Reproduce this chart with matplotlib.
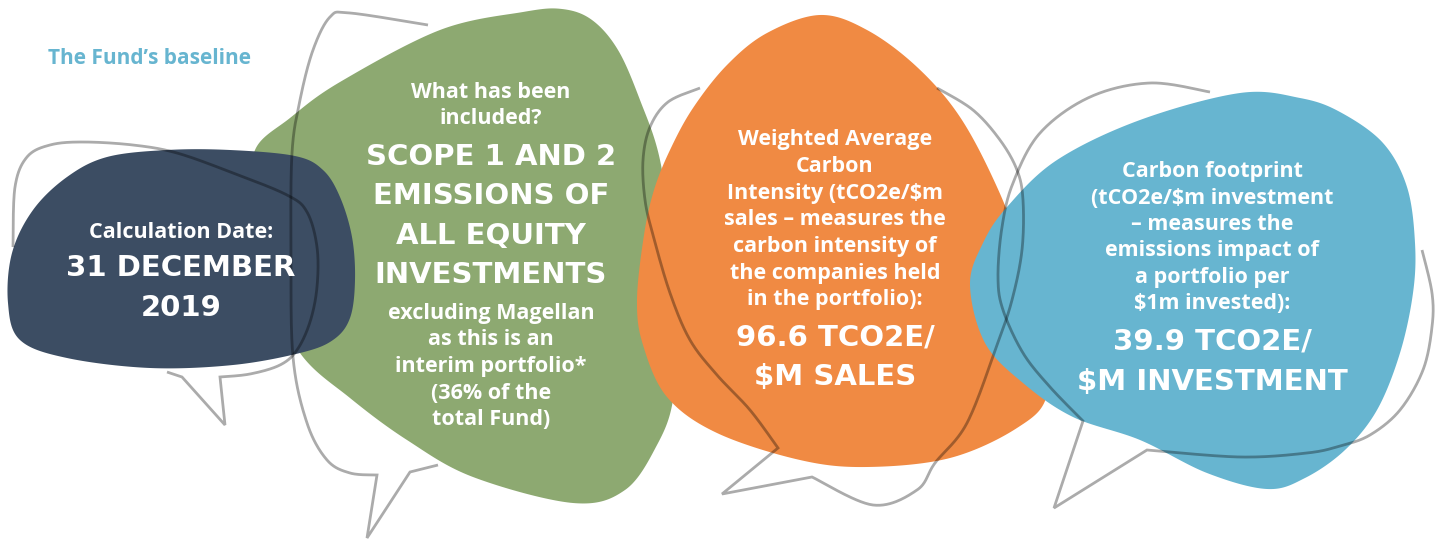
import numpy as np
import matplotlib
matplotlib.use("Agg")
from matplotlib import pyplot as plt

# colours of the four speech blobs
col_navy = "#3c4d63"
col_green = "#8da971"
col_orange = "#f08a43"
col_blue = "#67b5d0"

title = "The Fund\u2019s baseline"

# text of each blob
navy_small = ["Calculation Date:"]
navy_big = ["31 DECEMBER", "2019"]

green_small = ["What has been", "included?"]
green_big = ["SCOPE 1 AND 2", "EMISSIONS OF", "ALL EQUITY", "INVESTMENTS"]
green_after = ["excluding Magellan", "as this is an", "interim portfolio*", "(36% of the", "total Fund)"]

orange_small = ["Weighted Average", "Carbon", "Intensity (tCO2e/$m", "sales \u2013 measures the",
                "carbon intensity of", "the companies held", "in the portfolio):"]
orange_big = ["96.6 TCO2E/", "$M SALES"]

blue_small = ["Carbon footprint", "(tCO2e/$m investment", "\u2013 measures the",
              "emissions impact of", "a portfolio per", "$1m invested):"]
blue_big = ["39.9 TCO2E/", "$M INVESTMENT"]


def catmull(pts, closed=True, n=30):
    p = np.array(pts, float)
    m = len(p)
    if not closed:
        p = np.vstack([p[0], p, p[-1]])
    out = []
    rng = range(m) if closed else range(1, m)
    for i in rng:
        if closed:
            p0, p1, p2, p3 = p[i - 1], p[i], p[(i + 1) % m], p[(i + 2) % m]
        else:
            p0, p1, p2, p3 = p[i - 1], p[i], p[i + 1], p[i + 2]
        t = np.linspace(0, 1, n, endpoint=False)[:, None]
        out.append(0.5 * (2 * p1 + (-p0 + p2) * t + (2 * p0 - 5 * p1 + 4 * p2 - p3) * t ** 2
                          + (-p0 + 3 * p1 - 3 * p2 + p3) * t ** 3))
    if not closed:
        out.append(p[-2][None, :])
    return np.vstack(out)


fig = plt.figure(figsize=(14.43, 5.41), dpi=100)
ax = fig.add_axes([0, 0, 1, 1])
ax.set_xlim(0, 1443)
ax.set_ylim(541, 0)
ax.axis("off")

# blob outlines (pixel space)
green_shape = [(255, 150), (290, 118), (340, 82), (440, 30), (523, 12), (562, 9), (592, 20),
               (618, 50), (640, 100), (660, 160), (672, 250), (676, 330), (673, 400), (657, 445),
               (625, 490), (573, 503), (473, 477), (407, 440), (350, 398), (300, 353), (265, 280),
               (255, 200)]
navy_shape = [(8, 303), (20, 340), (67, 358), (150, 368), (233, 365), (300, 353), (333, 340),
              (350, 318), (355, 280), (352, 237), (340, 197), (323, 170), (295, 156), (230, 150),
              (167, 150), (107, 157), (67, 177), (33, 210), (12, 253)]
orange_shape = [(637, 300), (644, 235), (654, 190), (670, 150), (693, 108), (727, 65), (767, 33),
                (820, 15), (867, 30), (917, 67), (960, 117), (997, 187), (1025, 260), (1043, 330),
                (1047, 395), (1017, 428), (950, 458), (867, 467), (800, 460), (717, 433),
                (667, 397), (643, 345)]
blue_shape = [(970, 285), (983, 243), (1007, 207), (1057, 160), (1140, 120), (1240, 93),
              (1300, 98), (1340, 112), (1383, 143), (1407, 187), (1415, 243), (1413, 293),
              (1400, 353), (1377, 410), (1345, 450), (1305, 478), (1267, 489), (1207, 473),
              (1140, 440), (1073, 417), (1023, 383), (985, 343)]

for shape, c, z in [(green_shape, col_green, 1), (navy_shape, col_navy, 2),
                    (orange_shape, col_orange, 3), (blue_shape, col_blue, 4)]:
    xy = catmull(shape)
    ax.fill(xy[:, 0], xy[:, 1], color=c, lw=0, zorder=z)

# speech bubble outlines
line_kw = dict(color="black", alpha=0.33, lw=2, zorder=6, solid_capstyle="butt", solid_joinstyle="miter")


def bubble(smooth_pts, tail_pts, smooth2=None):
    xy = catmull(smooth_pts, closed=False)
    parts = [xy, np.array(tail_pts, float)]
    if smooth2 is not None:
        parts.append(catmull(smooth2, closed=False))
    xy = np.vstack(parts)
    ax.plot(xy[:, 0], xy[:, 1], **line_kw)


bubble([(13, 247), (15, 187), (27, 157), (50, 145), (83, 142), (133, 145), (177, 153),
        (233, 173), (287, 195), (307, 212), (317, 247), (317, 287), (310, 322), (297, 350),
        (280, 365), (250, 374), (220, 377)],
       [(225, 425), (182, 377), (167, 372)])
bubble([(428, 25), (350, 13), (330, 17), (313, 50), (300, 100), (292, 153), (291, 250),
        (293, 357), (307, 423), (327, 460), (350, 473), (377, 475)],
       [(367, 538), (410, 472), (438, 465)])
bubble([(700, 88), (668, 102), (650, 127), (643, 160), (645, 200), (653, 235), (670, 293),
        (690, 340), (717, 375), (750, 410), (778, 448)],
       [(722, 494), (812, 477)],
       [(812, 477), (873, 505), (917, 490), (935, 463), (967, 423), (997, 345), (1012, 300),
        (1022, 250), (1023, 200), (1017, 170), (1000, 140), (973, 110), (937, 88)])
bubble([(1210, 92), (1150, 83), (1090, 97), (1040, 133), (1013, 183), (1002, 227), (998, 277),
        (1003, 310), (1023, 353), (1050, 387), (1083, 421)],
       [(1054, 508), (1147, 450)],
       [(1147, 450), (1240, 457), (1307, 453), (1340, 446), (1370, 435), (1400, 410),
        (1423, 370), (1432, 327), (1432, 293), (1422, 250)])

# text
small_kw = dict(color="white", family="Open Sans", fontweight="bold", fontsize=15.5,
                ha="center", va="center", zorder=10)
big_kw = dict(color="white", family="DejaVu Sans", fontweight="bold", fontsize=21,
              ha="center", va="center", zorder=10)

ax.text(48, 58, title, color=col_blue, family="Open Sans", fontweight="bold",
        fontsize=15, ha="left", va="center")


def block(x, lines, y0, dy, kw):
    for i, s in enumerate(lines):
        ax.text(x, y0 + i * dy, s, **kw)


block(181, navy_small, 232, 26, small_kw)
block(181, navy_big, 268, 40, big_kw)

block(491, green_small, 92, 26, small_kw)
block(491, green_big, 157, 39.3, big_kw)
block(491, green_after, 313, 26.7, small_kw)

block(835, orange_small, 140, 26.6, small_kw)
block(835, orange_big, 338, 39, big_kw)

block(1212, blue_small, 172, 26.3, small_kw)
block(1212, blue_big, 342, 40, big_kw)

fig.savefig("out.png", dpi=100)
